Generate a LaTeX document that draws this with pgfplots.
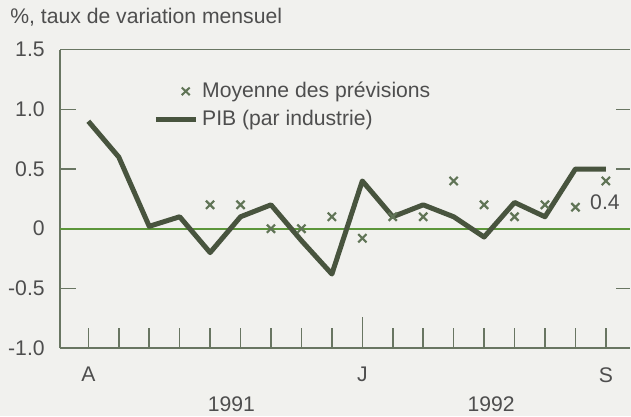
\documentclass[border=0pt]{standalone}
\usepackage{fontspec}
\setmainfont{Liberation Sans}
\usepackage{pgfplots}
\usepackage{pgfplotstable}
\pgfplotsset{compat=1.18}
\usetikzlibrary{backgrounds}

\definecolor{bgcol}{RGB}{241,241,238}
\definecolor{linecol}{RGB}{72,84,62}
\definecolor{crosscol}{RGB}{96,116,86}
\definecolor{spinecol}{RGB}{105,118,98}
\definecolor{zerocol}{RGB}{92,150,58}
\definecolor{textcol}{RGB}{78,78,78}

\newcommand\chartfont{\fontsize{10.6}{12.7}\selectfont}

\pgfplotsset{
  crossleg/.style={legend image code/.code={
    \node[draw=none, fill=none, inner sep=0pt, minimum width=20pt,
      minimum height=1pt, anchor=west] at (0pt,0pt) {};
    \draw[crosscol, line width=1pt] (13pt,-1.9pt) -- (17pt,1.9pt)
      (13pt,1.9pt) -- (17pt,-1.9pt);}},
  lineleg/.style={legend image code/.code={\draw[##1] (0pt,0pt) -- (20pt,0pt);}},
}

% PIB (par industrie), avril 1991 = 0 ... septembre 1992 = 17
\pgfplotstableread{
idx v
0 0.9
1 0.6
2 0.02
3 0.1
4 -0.2
5 0.1
6 0.2
7 -0.1
8 -0.38
9 0.4
10 0.1
11 0.2
12 0.1
13 -0.07
14 0.22
15 0.1
16 0.5
17 0.5
}\pib

% Moyenne des previsions
\pgfplotstableread{
idx v
4 0.2
5 0.2
6 0.0
7 0.0
8 0.1
9 -0.08
10 0.1
11 0.1
12 0.4
13 0.2
14 0.1
15 0.2
16 0.18
17 0.4
}\prev

\begin{document}
\begin{tikzpicture}[show background rectangle, inner frame sep=0pt,
  background rectangle/.style={fill=bgcol, draw=none}]
\begin{axis}[
  at={(0,0)}, anchor=south west,
  scale only axis, width=285.45pt, height=149.5pt,
  xmin=-0.93, xmax=17.787, ymin=-1, ymax=1.5,
  axis x line*=bottom, axis y line*=left,
  axis line style={spinecol, line width=1pt, -},
  clip=false,
  tick align=inside,
  xtick={0,...,17},
  xticklabels={A,,,,,,,,,J,,,,,,,,S},
  xtick style={/pgfplots/major tick length=10pt},
  ytick={-1,-0.5,0,0.5,1,1.5},
  yticklabels={-1.0,-0.5,0,0.5,1.0,1.5},
  ytick style={/pgfplots/major tick length=8pt},
  tick style={spinecol, line width=0.8pt},
  tick label style={font=\chartfont, text=textcol},
  yticklabel style={anchor=east, inner sep=0pt, xshift=-7.5pt},
  xticklabel style={anchor=north, inner sep=0pt, yshift=-9.5pt},
  legend style={draw=none, fill=none, font=\chartfont, text=textcol,
    at={(rel axis cs:0.163,0.813)}, anchor=west, inner sep=0pt, row sep=1pt},
  legend cell align=left,
]
\path (axis cs:-2.902,-1.573) rectangle (axis cs:17.787,1.916);
\draw[zerocol, line width=1.2pt] (axis cs:-0.93,0) -- (axis cs:17.787,0);
\draw[spinecol, line width=0.8pt] (axis cs:-0.93,1.5) -- (axis cs:17.787,1.5);
\draw[spinecol, line width=0.8pt] (axis cs:9,-1) -- ++(0pt,15.5pt);
\draw[spinecol, line width=0.8pt] (axis cs:17.787,1) -- ++(-7pt,0pt);
\draw[spinecol, line width=0.8pt] (axis cs:17.787,0.5) -- ++(-7pt,0pt);
\draw[spinecol, line width=0.8pt] (axis cs:17.787,-0.5) -- ++(-7pt,0pt);

\addplot[only marks, mark=x, mark size=2.9pt, crosscol,
  mark options={line width=1.1pt}, crossleg]
  table[x=idx, y=v] {\prev};
\addlegendentry{Moyenne des prévisions}

\addplot[linecol, line width=2.5pt, line join=round, mark=none, lineleg]
  table[x=idx, y=v] {\pib};
\addlegendentry{PIB (par industrie)}

\node[anchor=west, inner sep=0pt, font=\chartfont, text=textcol]
  at (axis cs:-2.574,1.774) {\%, taux de variation mensuel};
\node[inner sep=0pt, font=\chartfont, text=textcol] at (axis cs:4.7,-1.469) {1991};
\node[inner sep=0pt, font=\chartfont, text=textcol] at (axis cs:13.23,-1.469) {1992};
\node[inner sep=0pt, font=\chartfont, text=textcol] at (axis cs:16.97,0.226) {0.4};
\end{axis}
\end{tikzpicture}
\end{document}
